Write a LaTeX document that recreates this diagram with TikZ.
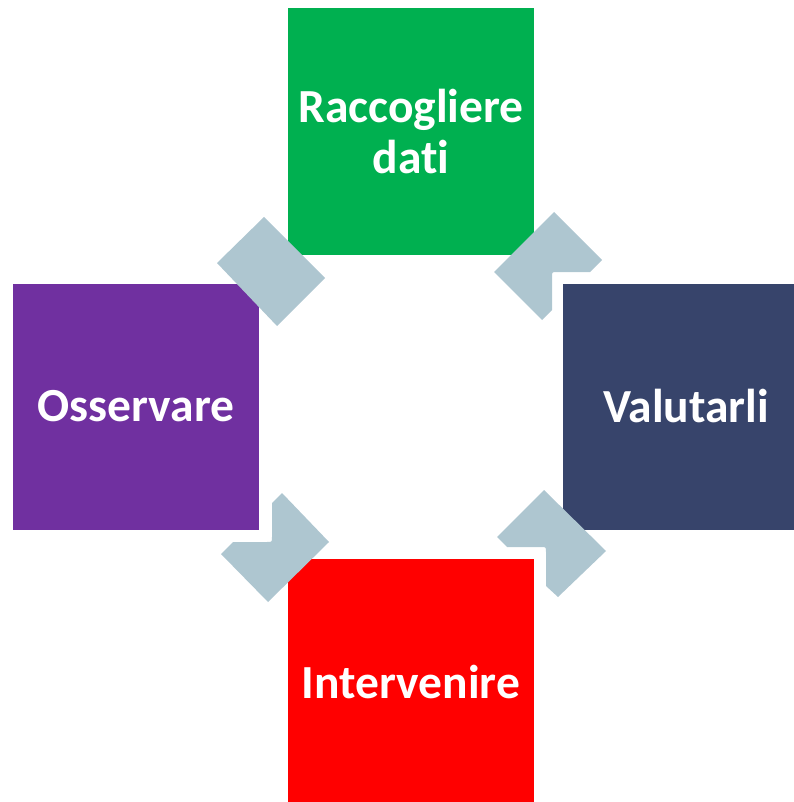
\documentclass[tikz,border=0pt]{standalone}
\usepackage{fontspec}
\setmainfont{Carlito}[Ligatures={NoCommon,NoRequired,NoContextual}]
\definecolor{cgreen}{HTML}{00B050}
\definecolor{cpurple}{HTML}{7030A0}
\definecolor{cnavy}{HTML}{37446B}
\definecolor{cred}{HTML}{FF0000}
\definecolor{cconn}{HTML}{AEC6D0}
\begin{document}
\begin{tikzpicture}[x=1pt,y=-1pt,
  box/.style={minimum width=246pt, minimum height=246pt, inner sep=0pt,
    text=white, font=\bfseries\fontsize{47.5}{51}\selectfont, align=center},
  conn/.style={fill=cconn, draw=none}]
\useasboundingbox (0,0) rectangle (793,802);
% boxes
\node[box, fill=cgreen]  (racc) at (411,131.5) {Raccogliere\\dati};
\node[box, fill=cpurple] (oss)  at (136,406.5) {Osservare};
\node[box, fill=cnavy]   (val)  at (686,406.5) {Valutarli};
\node[box, fill=cred]    (int)  at (411,682)   {Intervenire};
% connectors (block arrows)
\fill[conn] (264,217) -- (325,278) -- (277,326) -- (217,263) -- cycle;
\fill[conn] (554,212) -- (602,260) -- (590,272) -- (557,272)
  .. controls (552,272) .. (552,277) -- (552,310) -- (542,320) -- (494,272) -- cycle;
\fill[conn] (282,493) -- (329,542) -- (268,602) -- (221,554) -- (233,542) -- (267,542)
  .. controls (272,542) .. (272,537) -- (272,503) -- cycle;
\fill[conn] (544,490) -- (606,551) -- (558,597) -- (546,586) -- (546,552)
  .. controls (546,547) .. (541,547) -- (507,547) -- (497,537) -- cycle;
\end{tikzpicture}
\end{document}
